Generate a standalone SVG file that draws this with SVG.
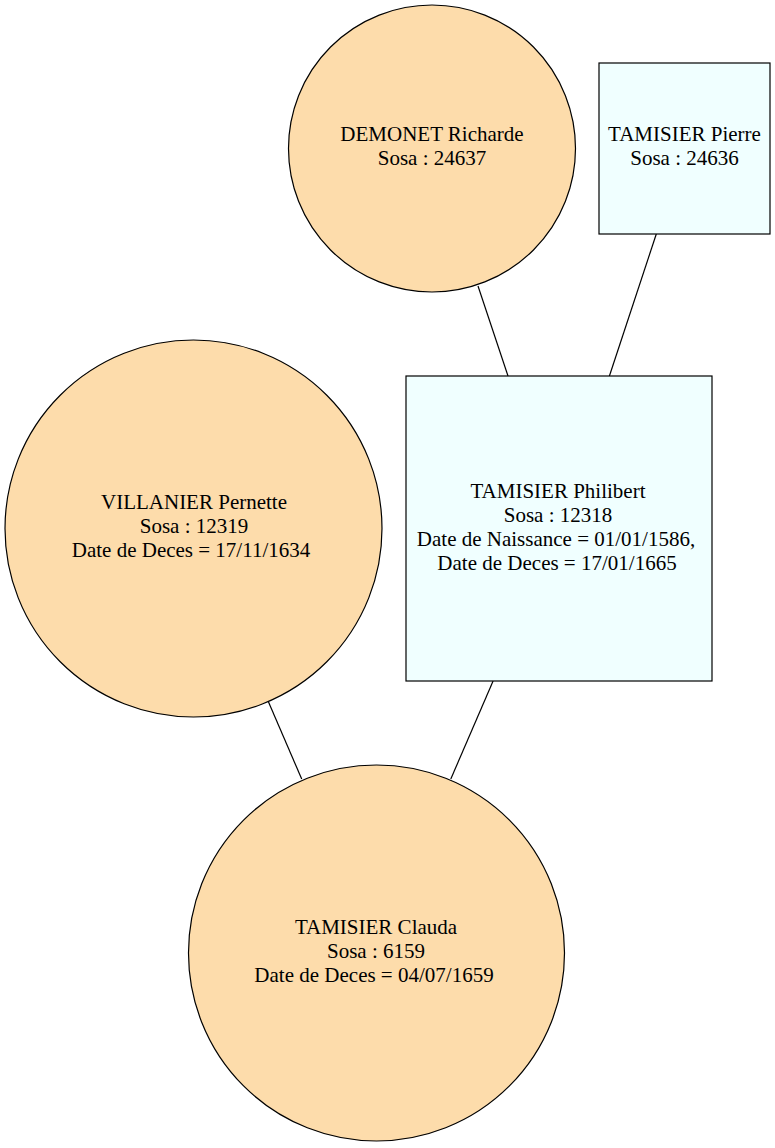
<svg xmlns="http://www.w3.org/2000/svg" width="775" height="1148" viewBox="0 0 775 1148">
<style>
.f{fill:#fddcab;stroke:#000;stroke-width:1.2}
.m{fill:#f0ffff;stroke:#000;stroke-width:1.2}
.e{stroke:#000;stroke-width:1.2;fill:none}
text{font-family:"Liberation Serif","Times New Roman",serif;font-size:21px;text-anchor:middle;fill:#000}
</style>
<rect width="775" height="1148" fill="#fff"/>
<g id="edges">
<line class="e" x1="478" y1="286" x2="508" y2="376"/>
<line class="e" x1="656.3" y1="234" x2="609.4" y2="376"/>
<line class="e" x1="268.3" y1="701.5" x2="301.7" y2="779"/>
<line class="e" x1="493.1" y1="681" x2="450.8" y2="779"/>
</g>
<g id="demonet">
<circle class="f" cx="432" cy="148.5" r="143.5"/>
<text x="432" y="141">DEMONET Richarde</text>
<text x="432" y="164.5">Sosa : 24637</text>
</g>
<g id="pierre">
<rect class="m" x="599" y="63" width="171" height="171"/>
<text x="684.5" y="141">TAMISIER Pierre</text>
<text x="684.5" y="164.5">Sosa : 24636</text>
</g>
<g id="philibert">
<rect class="m" x="406" y="376" width="306" height="305"/>
<text x="558" y="498">TAMISIER Philibert</text>
<text x="558" y="522">Sosa : 12318</text>
<text x="556" y="546">Date de Naissance = 01/01/1586,</text>
<text x="557" y="570">Date de Deces = 17/01/1665</text>
</g>
<g id="villanier">
<circle class="f" cx="193.5" cy="528.5" r="188.5"/>
<text x="194" y="508.5">VILLANIER Pernette</text>
<text x="194" y="532.5">Sosa : 12319</text>
<text x="191" y="556.5">Date de Deces = 17/11/1634</text>
</g>
<g id="claude">
<circle class="f" cx="376.5" cy="953" r="188"/>
<text x="376" y="933.5">TAMISIER Clauda</text>
<text x="376" y="957.5">Sosa : 6159</text>
<text x="374" y="981.5">Date de Deces = 04/07/1659</text>
</g>
</svg>
